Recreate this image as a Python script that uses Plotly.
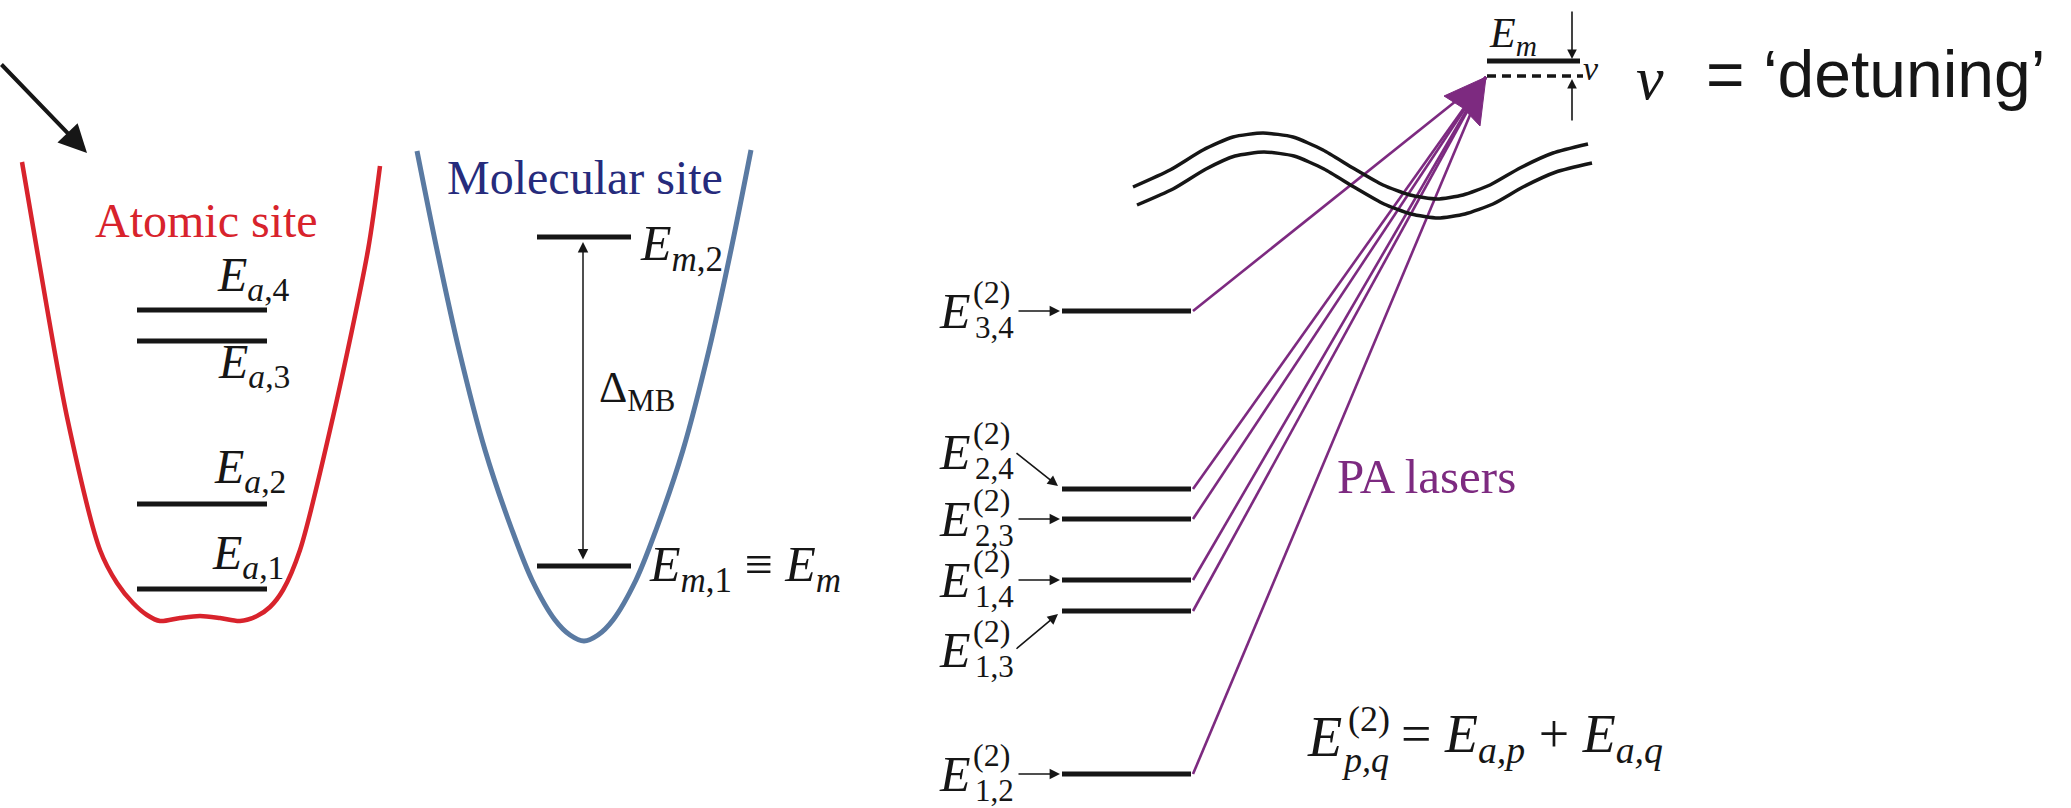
import plotly.graph_objects as go

W, H = 2071, 808
SERIF = "Liberation Serif"
SANS = "Liberation Sans"
BLACK = "#161616"
RED = "#d8232c"
BLUE = "#5a7aa2"
NAVY = "#262b7c"
PURPLE = "#7d2a80"

# ---------------- data (figure pixel coordinates, y downward) ----------------
# atomic-site single-atom levels
atomic_names = ["a,1", "a,2", "a,3", "a,4"]
atomic_level_y = [589, 504, 341, 310]
atomic_label_x = [210, 212, 216, 215]
atomic_label_base = [573, 487, 382, 295]

# molecular-site levels
molecular_names = ["m,1", "m,2"]
molecular_level_y = [566, 237]

# two-atom levels E^(2)_{p,q}
pair_names = ["1,2", "1,3", "1,4", "2,3", "2,4", "3,4"]
pair_level_y = [774, 611, 580, 519, 489, 311]
pair_label_y = [774, 650, 580, 519, 452, 311]

# potential wells (outline points)
red_well_x = [22, 37, 67, 100, 117, 133, 147, 160, 180, 200, 220, 240, 257, 270, 283, 300, 333, 368, 380]
red_well_y = [162, 250, 417, 550, 583, 603, 615, 621, 618, 616, 618, 621, 616, 607, 590, 550, 417, 250, 166]
blue_well_x = [417, 437, 459, 485, 512, 532, 555, 570, 584, 598, 613, 636, 656, 683, 709, 731, 751]
blue_well_y = [151, 250, 350, 450, 530, 580, 620, 635, 641, 635, 620, 580, 530, 450, 350, 250, 150]

# axis-break waves
wave_upper_x = [1133, 1170, 1203, 1233, 1263, 1293, 1323, 1353, 1383, 1410, 1437, 1463, 1490, 1520, 1553, 1588]
wave_upper_y = [187, 170, 150, 137, 133, 137, 150, 168, 185, 195, 199, 195, 185, 168, 153, 144]
wave_lower_x = [1137, 1173, 1206, 1235, 1264, 1294, 1324, 1354, 1384, 1411, 1438, 1465, 1493, 1523, 1556, 1592]
wave_lower_y = [205, 189, 169, 156, 152, 156, 169, 187, 204, 214, 218, 214, 204, 187, 172, 163]

# target (molecular) level and laser focus
em_level_y = 61
detuned_y = 76
laser_tip = (1486, 77)

# ---------------- geometry helpers ----------------
ATOM_X = (137, 267)
MOL_X = (537, 631)
PAIR_X = (1062, 1191)
EM_X = (1487, 1580)


def hsegs(x0, x1, ys):
    xs, yy = [], []
    for y in ys:
        xs += [x0, x1, None]
        yy += [y, y, None]
    return xs, yy


fig = go.Figure()


def line(xs, ys, color, width, shape="linear", dash=None, smoothing=None):
    ln = dict(color=color, width=width, shape=shape)
    if dash:
        ln["dash"] = dash
    if smoothing is not None:
        ln["smoothing"] = smoothing
    fig.add_trace(go.Scatter(x=xs, y=ys, mode="lines", line=ln,
                             hoverinfo="skip", showlegend=False))


# wells
line(red_well_x, red_well_y, RED, 4.5, shape="spline", smoothing=0.8)
line(blue_well_x, blue_well_y, BLUE, 5, shape="spline", smoothing=0.9)

# energy levels
line(*hsegs(*ATOM_X, atomic_level_y), BLACK, 5)
line(*hsegs(*MOL_X, molecular_level_y), BLACK, 5)
line(*hsegs(*PAIR_X, pair_level_y), BLACK, 5)
line(*hsegs(*EM_X, [em_level_y]), BLACK, 5)
line([EM_X[0], EM_X[1] + 3], [detuned_y, detuned_y], BLACK, 3.5, dash="9px,6px")

# PA laser lines
lx, ly = [], []
for y in pair_level_y:
    lx += [PAIR_X[1] + 2, laser_tip[0], None]
    ly += [y, laser_tip[1], None]
line(lx, ly, PURPLE, 2.6)

# big laser arrowhead
tx, ty = laser_tip
fig.add_trace(go.Scatter(x=[tx, tx - 42, tx - 23, tx - 6, tx],
                         y=[ty, ty + 19, ty + 31, ty + 49, ty],
                         mode="lines", fill="toself", fillcolor=PURPLE,
                         line=dict(color=PURPLE, width=1),
                         hoverinfo="skip", showlegend=False))

# axis-break waves (drawn over the lasers)
line(wave_upper_x, wave_upper_y, BLACK, 3.5, shape="spline", smoothing=0.6)
line(wave_lower_x, wave_lower_y, BLACK, 3.5, shape="spline", smoothing=0.6)

ann = []


def txt(x, y, text, size, color=BLACK, family=SERIF, xanchor="left"):
    ann.append(dict(x=x, y=y, xref="x", yref="y", text=text, showarrow=False,
                    font=dict(size=size, color=color, family=family),
                    xanchor=xanchor, yanchor="middle"))


def arrow(x0, y0, x1, y1, width=1.6, size=1.3, head=2, color=BLACK, both=False):
    d = dict(x=x1, y=y1, ax=x0, ay=y0, xref="x", yref="y", axref="x", ayref="y",
             text="", showarrow=True, arrowhead=head, arrowsize=size,
             arrowwidth=width, arrowcolor=color, standoff=0, startstandoff=0)
    if both:
        d["arrowside"] = "end+start"
        d["startarrowhead"] = head
        d["startarrowsize"] = size
    ann.append(d)


# top-left pointer arrow
arrow(0, 63, 87, 153, width=4, size=1.4)

# titles
txt(206, 220, "Atomic site", 48, color=RED, xanchor="center")
txt(585, 177, "Molecular site", 48, color=NAVY, xanchor="center")

# atomic labels
for n, xl, b in zip(atomic_names, atomic_label_x, atomic_label_base):
    a, k = n.split(",")
    txt(xl, b - 17, f"<i>E</i><sub><i>{a}</i>,{k}</sub>", 48)

# molecular labels
txt(638, 247, "<i>E</i><sub><i>m</i>,2</sub>", 50)
txt(647, 568, "<i>E</i><sub><i>m</i>,1</sub> ≡ <i>E</i><sub><i>m</i></sub>", 50)
arrow(583, 561, 583, 242, width=1.5, size=1.4, both=True)
txt(597, 390, "Δ<sub>MB</sub>", 44)

# pair labels
for n, ly_, lv in zip(pair_names, pair_label_y, pair_level_y):
    txt(937, ly_, "<i>E</i>", 50)
    txt(971, ly_ - 19, "(2)", 32)
    txt(973, ly_ + 16, n, 31)
    if ly_ == lv:
        arrow(1017, ly_, 1060, lv, width=1.6, size=1.3)
    else:
        arrow(1015, ly_, 1058, lv + (-3 if ly_ < lv else 3), width=1.6, size=1.3)

# PA lasers
txt(1335, 476, "PA lasers", 49, color=PURPLE)

# formula
txt(1305, 737, "<i>E</i>", 56)
txt(1346, 719, "(2)", 36)
txt(1339, 760, "<i>p,q</i>", 36)
txt(1399, 737, "= <i>E</i><sub><i>a,p</i></sub> + <i>E</i><sub><i>a,q</i></sub>", 54)

# target level + detuning
txt(1487, 36, "<i>E</i><sub><i>m</i></sub>", 42)
arrow(1572, 10, 1572, 59, width=1.6, size=1.2)
arrow(1572, 122, 1572, 79, width=1.6, size=1.2)
txt(1581, 68, "<i>ν</i>", 34)
txt(1634, 78, "<i>ν</i>", 62)
txt(1704, 74, "= ‘detuning’", 66, family=SANS)

fig.update_layout(
    width=W, height=H,
    margin=dict(l=0, r=0, t=0, b=0),
    paper_bgcolor="white", plot_bgcolor="white",
    xaxis=dict(range=[0, W], visible=False, fixedrange=True),
    yaxis=dict(range=[H, 0], visible=False, fixedrange=True),
    annotations=ann,
    showlegend=False,
)

fig.write_html("out.html", config={"displayModeBar": False, "staticPlot": True})

# remove the default browser body margin so the figure sits at the page origin
with open("out.html", encoding="utf-8") as f:
    html = f.read()
html = html.replace("<body>", '<body style="margin:0;overflow:hidden">', 1)
with open("out.html", "w", encoding="utf-8") as f:
    f.write(html)
